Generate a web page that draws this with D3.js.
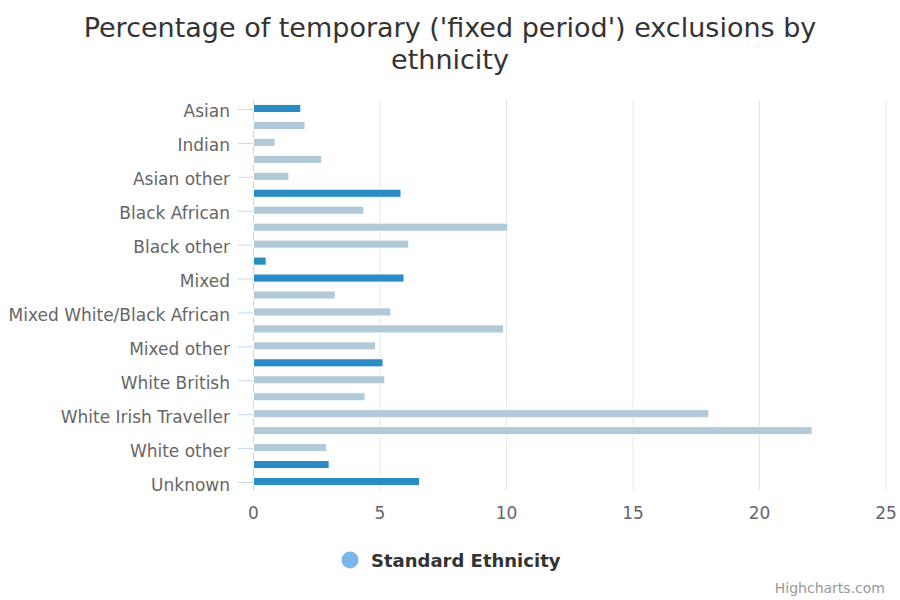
<!DOCTYPE html>
<html><head><meta charset="utf-8">
<script src="https://cdn.jsdelivr.net/npm/d3@7"></script>
<style>body{margin:0;background:#fff;} svg{font-family:"DejaVu Sans",sans-serif;}</style>
</head><body><svg id="c" width="900" height="600"></svg>
<script>
const categories = ["Asian","Bangladeshi","Indian","Pakistani","Asian other","Black","Black African","Black Caribbean","Black other","Chinese","Mixed","Mixed White/Asian","Mixed White/Black African","Mixed White/Black Caribbean","Mixed other","White","White British","White Irish","White Irish Traveller","White Gypsy/Roma","White other","Other","Unknown"];
const values = [1.87,2.04,0.85,2.70,1.40,5.83,4.36,10.05,6.14,0.50,5.95,3.23,5.43,9.88,4.83,5.12,5.19,4.41,18.0,22.08,2.89,2.99,6.56];
const aggregate = [true,false,false,false,false,true,false,false,false,true,true,false,false,false,false,true,false,false,false,false,false,true,true];
const xTicks = [0,5,10,15,20,25];
const titleLines = ["Percentage of temporary ('fixed period') exclusions by","ethnicity"];
const seriesName = "Standard Ethnicity";

const svg = d3.select("#c");
const pLeft = 253, pRight = 885.5, pTop = 100, pBottom = 490;
const x = d3.scaleLinear().domain([0,25]).range([pLeft,pRight]);
const y = d3.scaleBand().domain(categories).range([pTop,pBottom]);

// title
svg.append("text").attr("x",450).attr("y",36.5).attr("text-anchor","middle")
  .attr("font-size","27px").attr("fill","#333")
  .selectAll("tspan").data(titleLines).join("tspan")
  .attr("x",450).attr("dy",(d,i)=>i?32:0).text(d=>d);

// gridlines
svg.append("g").selectAll("line").data(xTicks).join("line")
  .attr("x1",d=>x(d)+0.5).attr("x2",d=>x(d)+0.5).attr("y1",pTop).attr("y2",pBottom)
  .attr("stroke","#e6e6e6").attr("stroke-width",1);

// x axis labels
const xAxis = d3.axisBottom(x).tickValues(xTicks).tickSize(0).tickPadding(0);
const gx = svg.append("g").attr("transform",`translate(0,${pBottom+14})`).call(xAxis);
gx.select(".domain").remove();
gx.selectAll("text").attr("font-size","17px").attr("fill","#666").attr("font-family","DejaVu Sans").attr("dy","0.9em");

// y axis
const yAxis = d3.axisLeft(y).tickValues(categories.filter((c,i)=>i%2===0)).tickSize(15).tickPadding(8);
const gy = svg.append("g").attr("transform",`translate(${pLeft},0)`).call(yAxis);
gy.select(".domain").attr("stroke","#ccd6eb").attr("d",`M0.5,${pTop}V${pBottom}`);
gy.selectAll(".tick line").attr("stroke","#ccd6eb").attr("transform","translate(0,1)");
gy.selectAll("text").attr("font-size","17px").attr("fill","#666").attr("font-family","DejaVu Sans").attr("dy","0.53em");

// bars
const bh = y.bandwidth()*0.6*0.8;
svg.append("g").selectAll("rect").data(categories).join("rect")
  .attr("x",x(0)+0.5).attr("y",(d,i)=>y(d)+y.bandwidth()/2-bh/2)
  .attr("width",(d,i)=>x(values[i])-x(0)).attr("height",bh)
  .attr("fill",(d,i)=>aggregate[i]?"#2b8cc4":"#b2cad8")
  .attr("stroke","#fff").attr("stroke-width",1);

// legend
svg.append("circle").attr("cx",350).attr("cy",560).attr("r",8.5).attr("fill","#7cb5ec");
svg.append("text").attr("x",371).attr("y",567).attr("font-size","18px").attr("font-weight","bold").attr("fill","#333").text(seriesName);

// credits
svg.append("text").attr("x",885).attr("y",593).attr("text-anchor","end").attr("font-size","14px").attr("fill","#999").text("Highcharts.com");
</script></body></html>
